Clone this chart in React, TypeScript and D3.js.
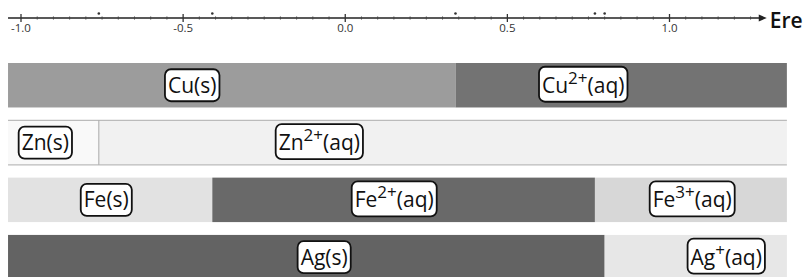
import React from 'react'
import { useEffect, useRef } from 'react'
import * as d3 from 'd3'

// axis
const majorTicks = [-1.0, -0.5, 0.0, 0.5, 1.0]
const tickLabels = ['-1.0', '-0.5', '0.0', '0.5', '1.0']
const minorStep = 0.05
const axisEnd = 1.3
const axisTitle = 'Ere'

// standard potentials marked on the axis (V)
const markerPotentials = [-0.76, -0.41, 0.34, 0.77, 0.8]

// one row per element
const rows = ['Cu', 'Zn', 'Fe', 'Ag']

// boundaries between predominance regions (V)
const cuBounds = [0.34]
const znBounds = [-0.76]
const feBounds = [-0.41, 0.77]
const agBounds = [0.8]

// species in each region: [base, superscript, suffix]
const cuSpecies = [['Cu', '', '(s)'], ['Cu', '2+', '(aq)']]
const znSpecies = [['Zn', '', '(s)'], ['Zn', '2+', '(aq)']]
const feSpecies = [['Fe', '', '(s)'], ['Fe', '2+', '(aq)'], ['Fe', '3+', '(aq)']]
const agSpecies = [['Ag', '', '(s)'], ['Ag', '+', '(aq)']]

// where the label sits in each region (V)
const cuLabelAt = [-0.472, 0.734]
const znLabelAt = [-0.925, -0.08]
const feLabelAt = [-0.737, 0.151, 1.07]
const agLabelAt = [-0.065, 1.175]

const cuFills = ['#9c9c9c', '#737373']
const znFills = ['#f9f9f9', '#f1f1f1']
const feFills = ['#e2e2e2', '#696969', '#d7d7d7']
const agFills = ['#636363', '#e7e7e7']

const rowData = [
  { bounds: cuBounds, species: cuSpecies, labelAt: cuLabelAt, fills: cuFills },
  { bounds: znBounds, species: znSpecies, labelAt: znLabelAt, fills: znFills },
  { bounds: feBounds, species: feSpecies, labelAt: feLabelAt, fills: feFills },
  { bounds: agBounds, species: agSpecies, labelAt: agLabelAt, fills: agFills },
]

const barStart = -1.04
const barEnd = 1.362

const App = () => {
  const svgRef = useRef(null)

  useEffect(() => {
    const w = 805
    const h = 277
    const font = "'Open Sans', 'DejaVu Sans', sans-serif"
    const svg = d3.select(svgRef.current)
    svg.selectAll('*').remove()
    svg.attr('width', w).attr('height', h).style('background', '#fff')

    const x = d3.scaleLinear().domain([-1, 1]).range([21, 669.5])
    const y = d3.scaleBand().domain(rows).range([63, 279.4]).paddingInner(0.224).paddingOuter(0)

    // axis
    const axisY = 18
    const ax = svg.append('g')
    ax.append('line')
      .attr('x1', x(barStart)).attr('x2', x(axisEnd) - 6)
      .attr('y1', axisY).attr('y2', axisY)
      .attr('stroke', '#222').attr('stroke-width', 1.4)
    ax.append('path')
      .attr('d', `M${x(axisEnd) - 8},${axisY - 3.5} L${x(axisEnd)},${axisY} L${x(axisEnd) - 8},${axisY + 3.5} Z`)
      .attr('fill', '#222')

    const minors = d3.range(-1.0, 1.26, minorStep).filter(v => !majorTicks.some(m => Math.abs(m - v) < 1e-6))
    ax.selectAll('.minor').data(minors).join('line')
      .attr('x1', d => x(d)).attr('x2', d => x(d))
      .attr('y1', axisY - 1.5).attr('y2', axisY + 1.5)
      .attr('stroke', '#444').attr('stroke-width', 1)
    ax.selectAll('.major').data(majorTicks).join('line')
      .attr('x1', d => x(d)).attr('x2', d => x(d))
      .attr('y1', axisY - 4).attr('y2', axisY + 4)
      .attr('stroke', '#333').attr('stroke-width', 1.3)
    ax.selectAll('.tl').data(majorTicks).join('text')
      .attr('x', d => x(d)).attr('y', 32)
      .attr('text-anchor', 'middle')
      .attr('font-family', font).attr('font-size', 11.5)
      .attr('fill', '#333')
      .text((d, i) => tickLabels[i])
    ax.selectAll('.dot').data(markerPotentials).join('circle')
      .attr('cx', d => x(d)).attr('cy', axisY - 4.5).attr('r', 1.3)
      .attr('fill', '#333')
    ax.append('text')
      .attr('x', x(axisEnd) + 3).attr('y', 28)
      .attr('font-family', font).attr('font-size', 21)
      .attr('font-weight', 600)
      .attr('fill', '#111')
      .text(axisTitle)

    // rows
    rowData.forEach((r, ri) => {
      const top = y(rows[ri])
      const bh = y.bandwidth()
      const edges = [barStart, ...r.bounds, barEnd]
      const g = svg.append('g')
      g.selectAll('rect').data(r.species).join('rect')
        .attr('x', (d, i) => x(edges[i]))
        .attr('width', (d, i) => x(edges[i + 1]) - x(edges[i]))
        .attr('y', top).attr('height', bh)
        .attr('fill', (d, i) => r.fills[i])

      if (rows[ri] === 'Zn') {
        g.selectAll('.edge').data([top, top + bh]).join('line')
          .attr('x1', x(barStart)).attr('x2', x(barEnd))
          .attr('y1', d => d).attr('y2', d => d)
          .attr('stroke', '#bbb').attr('stroke-width', 1.2)
        g.append('line')
          .attr('x1', x(r.bounds[0])).attr('x2', x(r.bounds[0]))
          .attr('y1', top).attr('y2', top + bh)
          .attr('stroke', '#aaa').attr('stroke-width', 1)
      }

      r.species.forEach((s, si) => {
        const cy = top + bh / 2
        const lg = g.append('g')
        const txt = lg.append('text')
          .attr('x', x(r.labelAt[si])).attr('y', cy + 7.5)
          .attr('text-anchor', 'middle')
          .attr('font-family', font).attr('font-size', 21)
          .attr('fill', '#111')
        txt.append('tspan').text(s[0])
        if (s[1]) {
          txt.append('tspan').attr('font-size', 17).attr('dy', -9).text(s[1])
          txt.append('tspan').attr('dy', 9).text(s[2])
        } else {
          txt.append('tspan').text(s[2])
        }
        const bb = txt.node().getBBox()
        const boxH = s[1] ? 35 : 32
        lg.insert('rect', 'text')
          .attr('x', bb.x - 3).attr('width', bb.width + 6)
          .attr('y', cy - boxH / 2 + (s[1] ? -1 : 0)).attr('height', boxH)
          .attr('rx', 6)
          .attr('fill', '#fff').attr('stroke', '#111').attr('stroke-width', 1.8)
      })
    })
  }, [])

  return (
    <div style={{ position: 'absolute', left: 0, top: 0 }}>
      <svg ref={svgRef}></svg>
    </div>
  )
}

export default App
